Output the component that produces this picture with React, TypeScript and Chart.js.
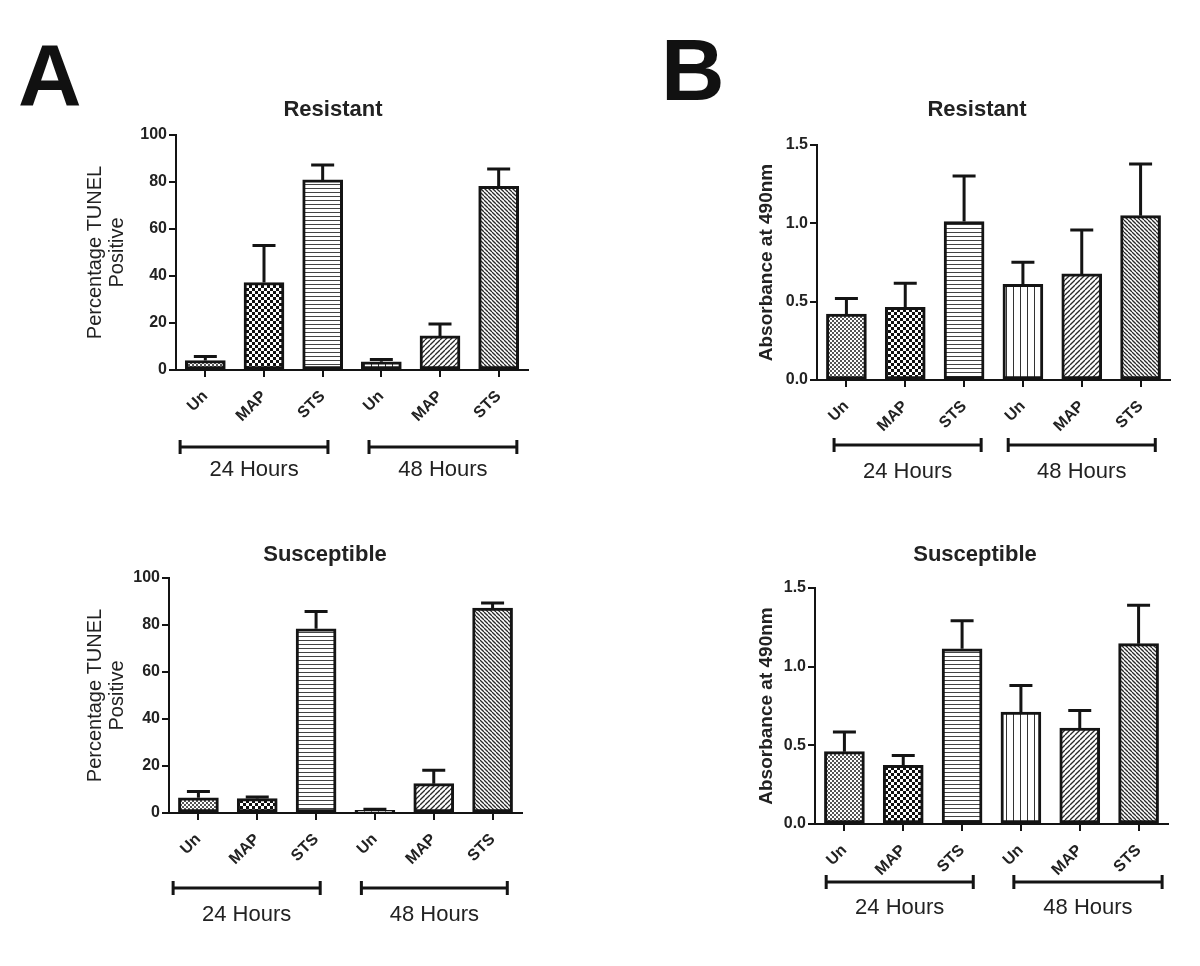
import React, { useEffect, useRef } from 'react';
import { Chart, registerables } from 'chart.js';

Chart.register(...registerables);

const FONT = '"Liberation Sans", Arial, Helvetica, sans-serif';
const INK = '#141414';
const TEXT = '#222222';

// ---------- data ----------
const categories = ['Un', 'MAP', 'STS', 'Un', 'MAP', 'STS'];
const groupLabels = ['24 Hours', '48 Hours'];
const patternKinds = ['fine', 'checker', 'hlines', 'vlines', 'diagUp', 'diagDown'];

const tunelResistant = [4.0, 37.2, 80.9, 3.5, 14.5, 78.2];
const tunelResistantErr = [1.7, 15.8, 6.3, 1.0, 5.1, 7.3];

const tunelSusceptible = [6.5, 6.1, 78.4, 1.1, 12.5, 87.2];
const tunelSusceptibleErr = [2.7, 0.7, 7.3, 0.5, 5.7, 2.2];

const absResistant = [0.421, 0.464, 1.011, 0.611, 0.677, 1.049];
const absResistantErr = [0.1, 0.153, 0.291, 0.14, 0.28, 0.33];

const absSusceptible = [0.46, 0.373, 1.114, 0.712, 0.61, 1.146];
const absSusceptibleErr = [0.125, 0.063, 0.178, 0.169, 0.112, 0.244];

const tunelTicks = { min: 0, max: 100, step: 20, decimals: 0 };
const absTicks = { min: 0, max: 1.5, step: 0.5, decimals: 1 };

// ---------- patterns ----------
function makePattern(kind: string): CanvasPattern | string {
  const tile = document.createElement('canvas');
  const t = tile.getContext('2d')!;
  let n = 4;
  if (kind === 'fine') n = 4;
  if (kind === 'checker') n = 6;
  if (kind === 'hlines') n = 4;
  if (kind === 'vlines') n = 7;
  if (kind === 'diagUp') n = 5;
  if (kind === 'diagDown') n = 4;
  tile.width = n;
  tile.height = n;
  t.fillStyle = '#ffffff';
  t.fillRect(0, 0, n, n);
  t.fillStyle = '#2a2a2a';
  t.strokeStyle = '#2a2a2a';
  if (kind === 'fine') {
    t.fillStyle = '#555';
    t.fillRect(0, 0, 2, 2);
    t.fillRect(2, 2, 2, 2);
  } else if (kind === 'checker') {
    t.fillStyle = '#111';
    t.fillRect(0, 0, 3, 3);
    t.fillRect(3, 3, 3, 3);
  } else if (kind === 'hlines') {
    t.fillStyle = '#444';
    t.fillRect(0, 0, n, 1);
  } else if (kind === 'vlines') {
    t.fillStyle = '#333';
    t.fillRect(0, 0, 1, n);
  } else if (kind === 'diagUp' || kind === 'diagDown') {
    t.lineWidth = 1.3;
    for (let k = -1; k <= 1; k++) {
      t.beginPath();
      if (kind === 'diagUp') {
        t.moveTo(k * n, n);
        t.lineTo(k * n + n, 0);
      } else {
        t.moveTo(k * n, 0);
        t.lineTo(k * n + n, n);
      }
      t.stroke();
    }
  }
  const c = document.createElement('canvas').getContext('2d')!;
  return c.createPattern(tile, 'repeat') || '#888';
}

// ---------- layout ----------
type Panel = {
  key: string;
  x: number; y: number; w: number; h: number; // canvas rect on page
  area: { l: number; t: number; r: number; b: number }; // plot area on page
  values: number[];
  errs: number[];
  ticks: { min: number; max: number; step: number; decimals: number };
  title: string;
  titlePos: [number, number];
  yTitle: string[];
  yTitleX: number[];
  yTitleBold: boolean;
  yTitleSize: number;
  brackets: [number, number][]; // in category units
  bracketY: number;
  groupLabelY: number;
  letter?: { text: string; x: number; y: number };
};

const Y_AXIS_W = 60;
const X_AXIS_H = 60;

const panels: Panel[] = [
  {
    key: 'A1', x: 0, y: 0, w: 600, h: 500,
    area: { l: 176, t: 135, r: 528, b: 370 },
    values: tunelResistant, errs: tunelResistantErr, ticks: tunelTicks,
    title: 'Resistant', titlePos: [333, 110],
    yTitle: ['Percentage TUNEL', 'Positive'], yTitleX: [95, 117], yTitleBold: false, yTitleSize: 20,
    brackets: [[-0.43, 2.09], [2.79, 5.31]], bracketY: 447, groupLabelY: 470,
    letter: { text: 'A', x: 18, y: 105 },
  },
  {
    key: 'B1', x: 600, y: 0, w: 600, h: 500,
    area: { l: 817, t: 145, r: 1170, b: 380 },
    values: absResistant, errs: absResistantErr, ticks: absTicks,
    title: 'Resistant', titlePos: [977, 110],
    yTitle: ['Absorbance at 490nm'], yTitleX: [767], yTitleBold: true, yTitleSize: 19,
    brackets: [[-0.21, 2.29], [2.75, 5.25]], bracketY: 445, groupLabelY: 472,
    letter: { text: 'B', x: 661, y: 100 },
  },
  {
    key: 'A2', x: 0, y: 500, w: 600, h: 466,
    area: { l: 169, t: 578, r: 522, b: 813 },
    values: tunelSusceptible, errs: tunelSusceptibleErr, ticks: tunelTicks,
    title: 'Susceptible', titlePos: [325, 555],
    yTitle: ['Percentage TUNEL', 'Positive'], yTitleX: [95, 117], yTitleBold: false, yTitleSize: 20,
    brackets: [[-0.43, 2.07], [2.77, 5.25]], bracketY: 888, groupLabelY: 915,
  },
  {
    key: 'B2', x: 600, y: 500, w: 600, h: 466,
    area: { l: 815, t: 588, r: 1168, b: 824 },
    values: absSusceptible, errs: absSusceptibleErr, ticks: absTicks,
    title: 'Susceptible', titlePos: [975, 555],
    yTitle: ['Absorbance at 490nm'], yTitleX: [767], yTitleBold: true, yTitleSize: 19,
    brackets: [[-0.31, 2.19], [2.88, 5.4]], bracketY: 882, groupLabelY: 908,
  },
];

function decorPlugin(p: Panel) {
  return {
    id: 'decor' + p.key,
    afterDatasetsDraw(chart: any) {
      const ctx = chart.ctx as CanvasRenderingContext2D;
      const ys = chart.scales.y;
      const meta = chart.getDatasetMeta(0);
      ctx.save();
      ctx.strokeStyle = INK;
      ctx.lineWidth = 3;
      ctx.lineCap = 'butt';
      p.values.forEach((v, i) => {
        const bar = meta.data[i];
        const x = bar.x;
        const yTop = ys.getPixelForValue(v);
        const yErr = ys.getPixelForValue(v + p.errs[i]);
        ctx.beginPath();
        ctx.moveTo(x, yTop);
        ctx.lineTo(x, yErr);
        ctx.moveTo(x - 11.5, yErr);
        ctx.lineTo(x + 11.5, yErr);
        ctx.stroke();
      });
      ctx.restore();
    },
    afterDraw(chart: any) {
      const ctx = chart.ctx as CanvasRenderingContext2D;
      const xs = chart.scales.x;
      const area = chart.chartArea;
      ctx.save();
      ctx.fillStyle = TEXT;
      ctx.textAlign = 'center';
      ctx.textBaseline = 'middle';
      // title
      ctx.font = `bold 22px ${FONT}`;
      ctx.fillText(p.title, p.titlePos[0] - p.x, p.titlePos[1] - p.y);
      // y title
      ctx.font = `${p.yTitleBold ? 'bold ' : ''}${p.yTitleSize}px ${FONT}`;
      const cy = (area.top + area.bottom) / 2;
      p.yTitle.forEach((line, i) => {
        ctx.save();
        ctx.translate(p.yTitleX[i] - p.x, cy);
        ctx.rotate(-Math.PI / 2);
        ctx.fillText(line, 0, 0);
        ctx.restore();
      });
      // brackets
      ctx.strokeStyle = INK;
      ctx.lineWidth = 3;
      const by = p.bracketY - p.y;
      ctx.font = `22px ${FONT}`;
      p.brackets.forEach(([a, b], i) => {
        const x1 = xs.getPixelForValue(a);
        const x2 = xs.getPixelForValue(b);
        ctx.beginPath();
        ctx.moveTo(x1, by);
        ctx.lineTo(x2, by);
        ctx.moveTo(x1, by - 7);
        ctx.lineTo(x1, by + 7);
        ctx.moveTo(x2, by - 7);
        ctx.lineTo(x2, by + 7);
        ctx.stroke();
        ctx.fillText(groupLabels[i], (x1 + x2) / 2, p.groupLabelY - p.y);
      });
      if (p.letter) {
        ctx.fillStyle = '#111';
        ctx.textAlign = 'left';
        ctx.textBaseline = 'alphabetic';
        ctx.font = `bold 88px ${FONT}`;
        ctx.fillText(p.letter.text, p.letter.x - p.x, p.letter.y - p.y);
      }
      ctx.restore();
    },
  };
}

function buildConfig(p: Panel): any {
  const patterns = patternKinds.map(makePattern);
  const pad = {
    left: p.area.l - p.x - Y_AXIS_W,
    right: p.x + p.w - p.area.r,
    top: p.area.t - p.y,
    bottom: p.y + p.h - p.area.b - X_AXIS_H,
  };
  return {
    type: 'bar',
    data: {
      labels: categories,
      datasets: [
        {
          data: p.values,
          backgroundColor: patterns,
          borderColor: INK,
          borderWidth: 3,
          borderSkipped: false,
          barThickness: 40,
        },
      ],
    },
    options: {
      responsive: false,
      animation: false,
      events: [],
      layout: { padding: pad },
      plugins: {
        legend: { display: false },
        tooltip: { enabled: false },
        title: { display: false },
      },
      scales: {
        x: {
          type: 'category',
          offset: true,
          grid: {
            display: true,
            drawOnChartArea: false,
            drawTicks: true,
            tickLength: 7,
            lineWidth: 2,
            color: INK,
            offset: false,
          },
          border: { display: true, color: INK, width: 2 },
          ticks: {
            minRotation: 45,
            maxRotation: 45,
            autoSkip: false,
            padding: 10,
            color: TEXT,
            font: { family: FONT, size: 16, weight: 'bold' },
          },
          afterFit: (s: any) => {
            s.height = X_AXIS_H;
          },
        },
        y: {
          min: p.ticks.min,
          max: p.ticks.max,
          grid: {
            display: true,
            drawOnChartArea: false,
            drawTicks: true,
            tickLength: 7,
            lineWidth: 2,
            color: INK,
          },
          border: { display: true, color: INK, width: 2 },
          ticks: {
            stepSize: p.ticks.step,
            padding: 2,
            color: TEXT,
            font: { family: FONT, size: 16, weight: 'bold' },
            callback: (v: number) => Number(v).toFixed(p.ticks.decimals),
          },
          afterFit: (s: any) => {
            s.width = Y_AXIS_W;
          },
        },
      },
    },
    plugins: [decorPlugin(p)],
  };
}

function PanelChart({ p }: { p: Panel }) {
  const ref = useRef<HTMLCanvasElement>(null);
  useEffect(() => {
    const chart = new Chart(ref.current!, buildConfig(p));
    return () => chart.destroy();
  }, [p]);
  return (
    <canvas
      ref={ref}
      width={p.w}
      height={p.h}
      style={{ position: 'absolute', left: p.x, top: p.y, width: p.w, height: p.h }}
    />
  );
}

export default function App() {
  return (
    <div
      style={{
        position: 'absolute',
        left: 0,
        top: 0,
        width: 1200,
        height: 966,
        background: '#ffffff',
        overflow: 'hidden',
      }}
    >
      {panels.map((p) => (
        <PanelChart key={p.key} p={p} />
      ))}
    </div>
  );
}
